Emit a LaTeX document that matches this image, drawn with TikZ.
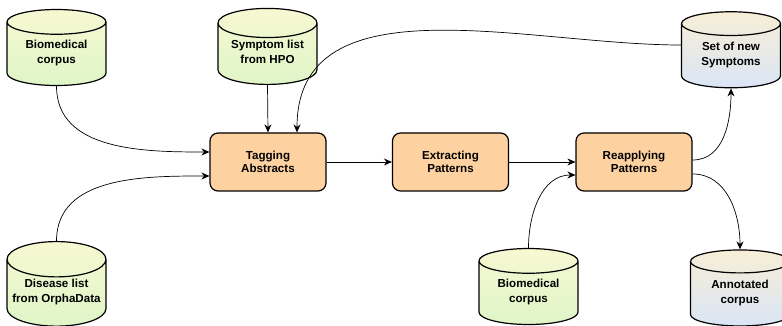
\documentclass[tikz,border=0pt]{standalone}
\usepackage{fontspec}
\setmainfont{Liberation Sans}
\usetikzlibrary{shapes.geometric,arrows.meta}
\definecolor{greentop}{HTML}{F7F8D2}
\definecolor{greenbot}{HTML}{DFF5C8}
\definecolor{bluetop}{HTML}{F8EED6}
\definecolor{bluebot}{HTML}{DAE5F6}
\definecolor{stagefill}{HTML}{FDD1A0}
% text of a data store, nudged within the cylinder body
\newcommand{\storetext}[1]{\raisebox{1pt}[\height][\depth]{\begin{tabular}{@{}c@{}}#1\end{tabular}}}
\tikzstyle{store}=[cylinder, shape border rotate=90, aspect=0.4, draw, line width=1.2pt, minimum width=99pt, minimum height=76pt, inner sep=0pt, font=\fontsize{11.6}{15.5}\selectfont\bfseries]
\tikzstyle{source}=[store, top color=greentop, bottom color=greenbot]
\tikzstyle{result}=[store, top color=bluetop, bottom color=bluebot]
\tikzstyle{stage}=[rectangle, rounded corners=8pt, draw, line width=1.2pt, fill=stagefill, minimum width=116pt, minimum height=58pt, align=center, font=\fontsize{11.6}{13.5}\selectfont\bfseries]
\tikzstyle{link}=[-{Stealth[length=8pt,width=7pt]}, line width=0.7pt]

\begin{document}
\begin{tikzpicture}[x=1pt, y=1pt]
\useasboundingbox (0,0) rectangle (782,326);
% Data stores
  \node[source] (corpus) at (56.5,272) {\storetext{Biomedical\\corpus}};
  \node[source] (hpo) at (267.5,272) {\storetext{Symptom list\\from HPO}};
  \node[result] (newsym) at (731,270) {\storetext{Set of new\\Symptoms}};
  \node[source] (orpha) at (56.5,33) {\storetext{Disease list\\from OrphaData}};
  \node[source] (corpus2) at (528.5,33) {\storetext{Biomedical\\corpus}};
  \node[result] (annot) at (740,32) {\storetext{Annotated\\corpus}};
% Steps
  \node[stage] (tag) at (268,164) {Tagging\\Abstracts};
  \node[stage] (extract) at (450.5,164) {Extracting\\Patterns};
  \node[stage] (reapply) at (634,164) {Reapplying\\Patterns};
% Links
  \draw[link] (corpus.south) to[out=-90, in=180] ([yshift=10pt]tag.west);
  \draw[link] (orpha.north) to[out=90, in=180] ([yshift=-14pt]tag.west);
  \draw[link] (hpo.south) -- (tag.north);
  \draw[link] ([yshift=11pt]newsym.west) to[out=180, in=90] ([xshift=29pt]tag.north);
  \draw[link] (tag) -- (extract);
  \draw[link] (extract) -- (reapply);
  \draw[link] (corpus2.north) to[out=90, in=180] ([yshift=-13pt]reapply.west);
  \draw[link] ([yshift=2pt]reapply.east) to[out=0, in=-90] (newsym.south);
  \draw[link] ([yshift=-12pt]reapply.east) to[out=0, in=90] (annot.north);
\end{tikzpicture}
\end{document}
